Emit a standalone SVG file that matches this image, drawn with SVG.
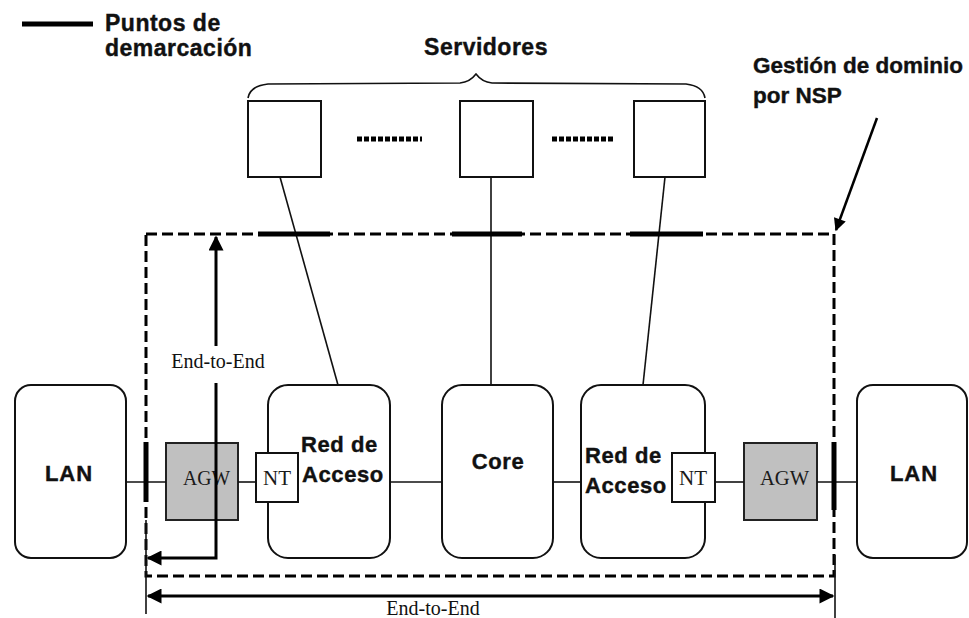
<svg xmlns="http://www.w3.org/2000/svg" width="969" height="618" viewBox="0 0 969 618">
  <defs>
    <style>
      .lbl { font-family: "Liberation Sans", Arial, sans-serif; font-weight: bold; fill: #111; stroke: #111; stroke-width: 0.4; }
      .big { font-size: 23px; letter-spacing: 0.5px; }
      .mid { font-size: 22px; letter-spacing: 0.6px; }
      .tag { font-family: "Liberation Serif", "Times New Roman", serif; fill: #1a1a1a; }
      .serif { font-family: "Liberation Serif", "Times New Roman", serif; font-size: 20px; fill: #111; }
      .box { fill: #fff; stroke: #111; stroke-width: 2; }
      .gw { fill: #c0c0c0; stroke: #222; stroke-width: 2; }
      .thin { stroke: #111; stroke-width: 1.6; fill: none; }
      .bar { stroke: #000; stroke-width: 5; }
      .dash { stroke: #000; stroke-width: 3; fill: none; stroke-dasharray: 11 5; }
      .dim { stroke: #000; stroke-width: 3; fill: none; }
    </style>
    <marker id="ah" viewBox="0 0 10 10" refX="9" refY="5" markerWidth="5.5" markerHeight="5" orient="auto-start-reverse" markerUnits="strokeWidth">
      <path d="M0,0 L10,5 L0,10 z" fill="#000"/>
    </marker>
  </defs>
  <rect width="969" height="618" fill="#fff"/>

  <!-- legend -->
  <g id="legend">
    <line x1="22" y1="24" x2="93" y2="24" class="bar"/>
    <text x="105" y="31" class="lbl big">Puntos de</text>
    <text x="105" y="56" class="lbl big">demarcación</text>
  </g>

  <!-- server group -->
  <g id="servers-label">
    <text x="486" y="55" class="lbl big" text-anchor="middle">Servidores</text>
    <path d="M248,98 Q250,86 268,84 L460,83 Q470,82 476,74 Q482,82 492,83 L686,84 Q703,86 705,98" class="thin"/>
  </g>
  <g id="server1"><rect x="248" y="101" width="73" height="76" class="box"/></g>
  <g id="server2"><rect x="460" y="101" width="73" height="76" class="box"/></g>
  <g id="server3"><rect x="634" y="101" width="71" height="76" class="box"/></g>
  <g id="ellipsis">
    <line x1="357" y1="139" x2="422" y2="139" stroke="#000" stroke-width="5" stroke-dasharray="5 2"/>
    <line x1="552" y1="139" x2="615" y2="139" stroke="#000" stroke-width="5" stroke-dasharray="5 2"/>
  </g>

  <!-- NSP domain -->
  <g id="nsp-label">
    <text x="753" y="73" class="lbl big" style="font-size:22.5px;letter-spacing:0">Gestión de dominio</text>
    <text x="753" y="103" class="lbl big" style="font-size:22.5px;letter-spacing:0">por NSP</text>
  </g>

  <!-- nodes -->
  <g id="lan-left">
    <rect x="15" y="385" width="111" height="173" rx="16" class="box"/>
    <text x="69" y="481" class="lbl mid" text-anchor="middle" style="letter-spacing:1px">LAN</text>
  </g>
  <g id="agw-left">
    <rect x="166" y="443" width="72" height="77" class="gw"/>
    <text x="183" y="485" class="tag" font-size="22" textLength="47" lengthAdjust="spacingAndGlyphs">AGW</text>
  </g>
  <g id="access-left">
    <rect x="268" y="385" width="122" height="173" rx="20" class="box"/>
    <text x="301" y="452" class="lbl mid">Red de</text>
    <text x="302" y="482" class="lbl mid">Acceso</text>
  </g>
  <g id="nt-left">
    <rect x="256" y="453" width="42" height="49" class="box"/>
    <text x="263" y="485" class="tag" font-size="22" textLength="28" lengthAdjust="spacingAndGlyphs">NT</text>
  </g>
  <g id="core">
    <rect x="442" y="385" width="111" height="173" rx="20" class="box"/>
    <text x="498" y="469" class="lbl mid" text-anchor="middle">Core</text>
  </g>
  <g id="access-right">
    <rect x="581" y="385" width="124" height="173" rx="20" class="box"/>
    <text x="585" y="463" class="lbl mid">Red de</text>
    <text x="585" y="493" class="lbl mid">Acceso</text>
  </g>
  <g id="nt-right">
    <rect x="672" y="453" width="43" height="49" class="box"/>
    <text x="679" y="485" class="tag" font-size="22" textLength="28" lengthAdjust="spacingAndGlyphs">NT</text>
  </g>
  <g id="agw-right">
    <rect x="744" y="443" width="73" height="77" class="gw"/>
    <text x="760" y="485" class="tag" font-size="22" textLength="49" lengthAdjust="spacingAndGlyphs">AGW</text>
  </g>
  <g id="lan-right">
    <rect x="857" y="385" width="110" height="173" rx="16" class="box"/>
    <text x="914" y="481" class="lbl mid" text-anchor="middle" style="letter-spacing:1px">LAN</text>
  </g>

  <!-- connectors -->
  <g id="connectors">
    <!-- links along the path -->
    <line x1="126" y1="482" x2="166" y2="482" class="thin"/>
    <line x1="238" y1="482" x2="256" y2="482" class="thin"/>
    <line x1="390" y1="482" x2="442" y2="482" class="thin"/>
    <line x1="553" y1="482" x2="581" y2="482" class="thin"/>
    <line x1="715" y1="482" x2="744" y2="482" class="thin"/>
    <line x1="817" y1="482" x2="857" y2="482" class="thin"/>
    <!-- server uplinks -->
    <line x1="280" y1="177" x2="338" y2="385" class="thin"/>
    <line x1="491" y1="177" x2="491" y2="385" class="thin"/>
    <line x1="665" y1="177" x2="643" y2="385" class="thin"/>

    <!-- NSP domain boundary -->
    <rect x="146" y="234" width="688" height="342" class="dash"/>
    <line x1="877" y1="118" x2="836" y2="230" stroke="#000" stroke-width="2.5" marker-end="url(#ah)"/>

    <!-- demarcation points -->
    <line x1="258" y1="234" x2="330" y2="234" class="bar"/>
    <line x1="452" y1="234" x2="522" y2="234" class="bar"/>
    <line x1="630" y1="234" x2="703" y2="234" class="bar"/>
    <line x1="146" y1="442" x2="146" y2="502" class="bar"/>
    <line x1="834" y1="442" x2="834" y2="510" class="bar"/>

    <!-- end-to-end dimensions -->
    <line x1="146" y1="520" x2="146" y2="614" stroke="#111" stroke-width="1.6"/>
    <line x1="835" y1="555" x2="835" y2="618" stroke="#111" stroke-width="1.6"/>
    <line x1="148" y1="596" x2="833" y2="596" class="dim" marker-start="url(#ah)" marker-end="url(#ah)"/>
    <text x="433" y="615" class="serif" text-anchor="middle">End-to-End</text>

    <polyline points="148,558 216,558 216,383" class="dim" marker-start="url(#ah)"/>
    <line x1="216" y1="346" x2="216" y2="237" class="dim" marker-end="url(#ah)"/>
    <text x="218" y="368" class="serif" text-anchor="middle">End-to-End</text>
  </g>
</svg>
